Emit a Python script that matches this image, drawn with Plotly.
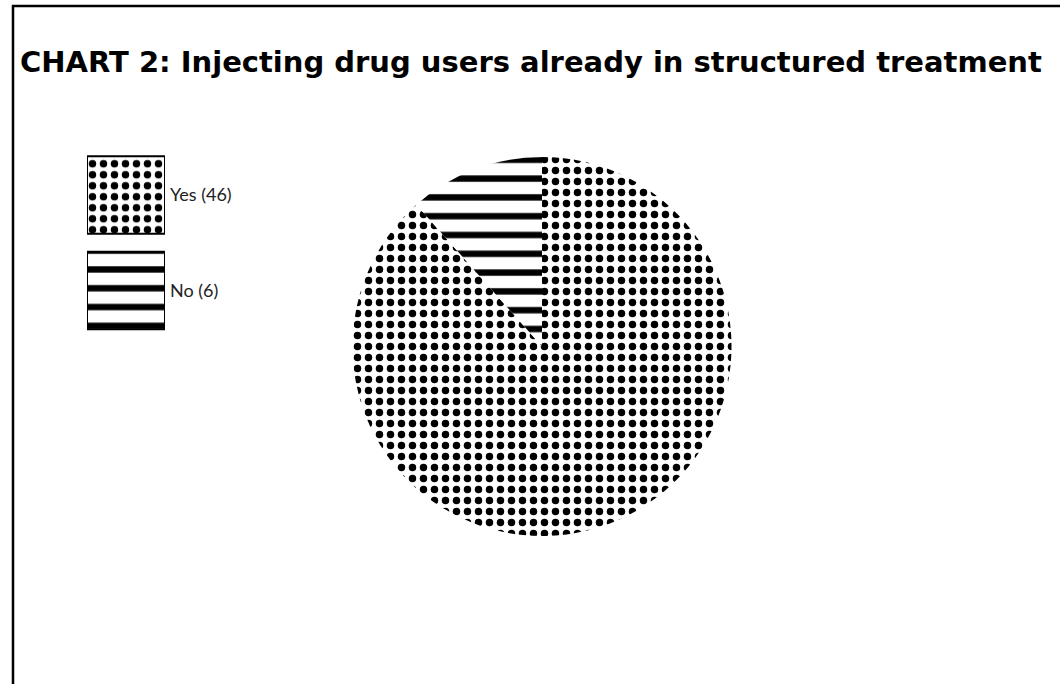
import plotly.graph_objects as go

# Data
categories = ["Yes", "No"]
counts = [46, 6]
legend_labels = ["Yes (46)", "No (6)"]
title_text = "CHART 2: Injecting drug users already in structured treatment"

W, H = 1060, 684

def px_x(v):
    return v / W

def px_y(v):
    return 1 - v / H

dot_pattern = dict(shape=".", fgcolor="black", bgcolor="white", size=11, solidity=0.36,
                   fillmode="replace", fgopacity=1)
line_pattern = dict(shape="-", fgcolor="black", bgcolor="white", size=18.8, solidity=0.34,
                    fillmode="replace", fgopacity=1)
patterns = [dot_pattern, line_pattern]

fig = go.Figure()

fig.add_trace(go.Pie(
    labels=categories,
    values=counts,
    sort=False,
    direction="clockwise",
    rotation=0,
    textinfo="none",
    hoverinfo="label+value",
    showlegend=False,
    marker=dict(
        colors=["white", "white"],
        line=dict(width=0),
        pattern=dict(
            shape=[p["shape"] for p in patterns],
            fgcolor="black",
            bgcolor="white",
            size=[p["size"] for p in patterns],
            solidity=[p["solidity"] for p in patterns],
            fillmode="replace",
            fgopacity=1,
        ),
    ),
    domain=dict(x=[px_x(352.5), px_x(731.5)], y=[px_y(536), px_y(157)]),
))

# Legend swatches as a bar chart with its tick labels as the legend text
for lab, pat in zip(legend_labels, patterns):
    fig.add_trace(go.Bar(
        y=[lab], x=[1], orientation="h", width=0.81,
        marker=dict(color="white", line=dict(color="black", width=2), pattern=pat),
        showlegend=False, hoverinfo="y",
        xaxis="x2", yaxis="y2",
    ))

fig.update_layout(
    width=W, height=H,
    margin=dict(l=0, r=0, t=0, b=0),
    paper_bgcolor="white",
    plot_bgcolor="white",
    showlegend=False,
    title=dict(
        text=title_text,
        x=px_x(20), xanchor="left", xref="paper",
        y=px_y(62), yanchor="middle", yref="paper",
        font=dict(family="DejaVu Sans", size=29, color="black", weight="bold"),
    ),
    xaxis2=dict(domain=[px_x(87), px_x(165)], range=[0, 1], visible=False, fixedrange=True),
    yaxis2=dict(
        domain=[px_y(338.25), px_y(147.25)], anchor="x2",
        type="category", categoryorder="array", categoryarray=legend_labels,
        autorange="reversed", side="right",
        showgrid=False, zeroline=False, showline=False, ticks="",
        ticklabelstandoff=4,
        tickfont=dict(family="Lato", size=18, color="#222222"),
        fixedrange=True,
    ),
    shapes=[dict(
        type="rect", xref="paper", yref="paper",
        x0=px_x(13), x1=1.2, y0=px_y(6), y1=-0.2,
        line=dict(color="black", width=2.5), fillcolor="rgba(0,0,0,0)",
    )],
    bargap=0.19,
)

fig.write_html("out.html")
